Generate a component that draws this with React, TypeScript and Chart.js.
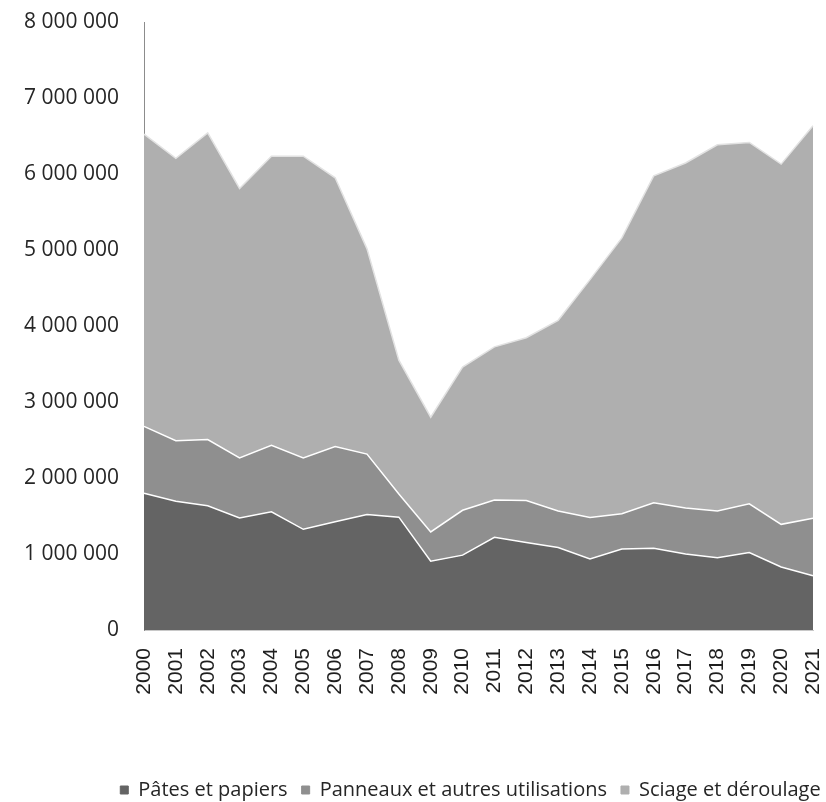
import React, { useEffect, useRef } from "react";
import { Chart, registerables } from "chart.js";

Chart.register(...registerables);

const years = [
  "2000", "2001", "2002", "2003", "2004", "2005", "2006", "2007", "2008", "2009", "2010",
  "2011", "2012", "2013", "2014", "2015", "2016", "2017", "2018", "2019", "2020", "2021",
];

const pates = [
  1800000, 1695000, 1635000, 1475000, 1555000, 1325000, 1425000, 1520000, 1485000, 905000, 985000,
  1220000, 1150000, 1085000, 935000, 1065000, 1075000, 1000000, 950000, 1020000, 830000, 715000,
];

const panneaux = [
  880000, 795000, 870000, 790000, 875000, 940000, 990000, 795000, 305000, 385000, 590000,
  490000, 555000, 480000, 545000, 465000, 600000, 605000, 615000, 640000, 560000, 755000,
];

const sciage = [
  3845000, 3715000, 4035000, 3545000, 3805000, 3970000, 3535000, 2700000, 1760000, 1510000, 1885000,
  2015000, 2140000, 2510000, 3130000, 3630000, 4300000, 4540000, 4820000, 4755000, 4740000, 5165000,
];

const seriesNames = ["Pâtes et papiers", "Panneaux et autres utilisations", "Sciage et déroulage"];

const yMax = 8000000;
const yStep = 1000000;

function formatThousands(v: number): string {
  return String(Math.round(v)).replace(/\B(?=(\d{3})+(?!\d))/g, " ");
}

const legendShift = {
  id: "legendShift",
  afterLayout(chart: any) {
    const l = chart.legend;
    if (l) {
      const c = 470.5;
      l.left = c - 390;
      l.right = c + 390;
      l.width = 780;
    }
  },
};

export default function App() {
  const ref = useRef<HTMLCanvasElement | null>(null);

  useEffect(() => {
    if (!ref.current) return;
    const chart = new Chart(ref.current, {
      type: "line",
      data: {
        labels: years,
        datasets: [
          {
            label: seriesNames[0],
            data: pates,
            backgroundColor: "#646464",
            borderColor: "#ffffff",
            borderWidth: 1.5,
            fill: "origin",
            pointRadius: 0,
            tension: 0,
          },
          {
            label: seriesNames[1],
            data: panneaux,
            backgroundColor: "#8f8f8f",
            borderColor: "#ffffff",
            borderWidth: 1.5,
            fill: "-1",
            pointRadius: 0,
            tension: 0,
          },
          {
            label: seriesNames[2],
            data: sciage,
            backgroundColor: "#afafaf",
            borderColor: "#e2e2e2",
            borderWidth: 1.5,
            fill: "-1",
            pointRadius: 0,
            tension: 0,
          },
        ],
      },
      options: {
        responsive: false,
        animation: false,
        layout: { padding: { left: 0, right: 13, top: 22, bottom: 0 } },
        plugins: {
          tooltip: { enabled: false },
          legend: {
            position: "bottom",
            align: "center",
            labels: {
              boxWidth: 8,
              boxHeight: 8,
              padding: 14,
              color: "#262626",
              font: { family: "'Open Sans'", size: 20 },
              generateLabels: (c: any) =>
                c.data.datasets.map((ds: any, i: number) => ({
                  text: ds.label,
                  fillStyle: ds.backgroundColor,
                  strokeStyle: ds.backgroundColor,
                  lineWidth: 1,
                  hidden: false,
                  datasetIndex: i,
                  fontColor: "#262626",
                })),
            },
          },
        },
        scales: {
          x: {
            type: "category",
            offset: false,
            grid: { display: false, drawTicks: false },
            border: { display: true, color: "#c8c8c8", width: 1 },
            ticks: {
              autoSkip: false,
              maxRotation: 90,
              minRotation: 90,
              padding: 18,
              color: "#1e1e1e",
              font: { family: "'Liberation Sans'", size: 21 },
            },
            afterFit: (scale: any) => {
              scale.height = 136;
              scale.paddingLeft = 0;
              scale.paddingRight = 0;
            },
          },
          y: {
            stacked: true,
            min: 0,
            max: yMax,
            grid: { display: false, drawTicks: false },
            border: { display: true, color: "#8c8c8c", width: 1 },
            ticks: {
              stepSize: yStep,
              padding: 25,
              color: "#262626",
              font: { family: "'Open Sans'", size: 21 },
              callback: (v: any) => formatThousands(Number(v)),
            },
            afterFit: (scale: any) => {
              scale.width = 144;
              scale.paddingTop = 0;
              scale.paddingBottom = 0;
            },
          },
        },
      },
      plugins: [legendShift],
    });
    return () => chart.destroy();
  }, []);

  return (
    <div style={{ position: "fixed", left: 0, top: 0, width: 826, height: 810, background: "#ffffff" }}>
      <canvas ref={ref} width={826} height={810} style={{ display: "block" }} />
    </div>
  );
}
